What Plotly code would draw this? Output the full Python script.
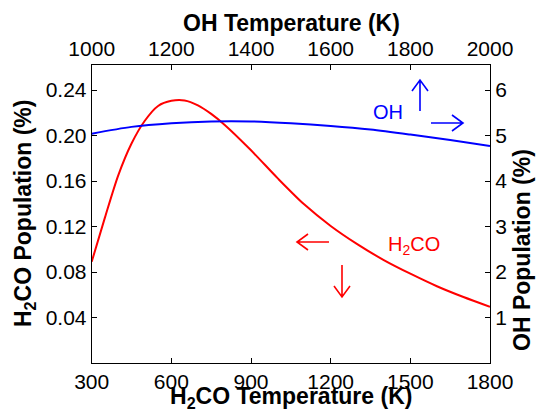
import plotly.graph_objects as go

# H2CO (bottom x / left y)
h2co_temp = [300, 350, 400, 450, 500, 550, 600, 650, 700, 750, 800, 900, 1000,
             1100, 1200, 1300, 1400, 1500, 1600, 1700, 1800]
h2co_pop = [0.089, 0.128, 0.165, 0.193, 0.213, 0.226, 0.2305, 0.2308, 0.2265,
            0.219, 0.2095, 0.187, 0.1625, 0.1395, 0.1205, 0.1045, 0.0905, 0.0785,
            0.0675, 0.058, 0.0494]

# OH (top x / right y)
oh_temp = [1000, 1100, 1200, 1300, 1400, 1500, 1600, 1700, 1800, 1900, 2000]
oh_pop = [5.04, 5.19, 5.27, 5.31, 5.31, 5.27, 5.21, 5.13, 5.02, 4.90, 4.77]

h2co_ticks = [300, 600, 900, 1200, 1500, 1800]
oh_ticks = [1000, 1200, 1400, 1600, 1800, 2000]
left_ticks = [0.04, 0.08, 0.12, 0.16, 0.20, 0.24]
right_ticks = [1, 2, 3, 4, 5, 6]

W, H = 537, 415
FONT = "Liberation Sans, Arial, Helvetica, sans-serif"
TICKF = dict(family=FONT, size=21, color="black")
TITLEF = dict(family=FONT, size=23, color="black")

fig = go.Figure()
fig.add_trace(go.Scatter(x=h2co_temp, y=h2co_pop, mode="lines",
                         line=dict(color="#ff0000", width=2, shape="spline", smoothing=0.8),
                         xaxis="x", yaxis="y", showlegend=False))
fig.add_trace(go.Scatter(x=oh_temp, y=oh_pop, mode="lines",
                         line=dict(color="#0000ff", width=2, shape="spline", smoothing=0.8),
                         xaxis="x2", yaxis="y2", showlegend=False))

axis_common = dict(showline=True, linecolor="black", linewidth=1, ticks="inside",
                   ticklen=5, tickcolor="black", tickwidth=1, showgrid=False,
                   zeroline=False, tickfont=TICKF, automargin=False)

xdom = [91.7 / W, 490 / W]
ydom = [1 - 363 / H, 1 - 65 / H]

fig.update_layout(
    width=W, height=H,
    margin=dict(l=0, r=0, t=0, b=0),
    paper_bgcolor="white", plot_bgcolor="white",
    xaxis=dict(domain=xdom, range=[300, 1800], tickvals=h2co_ticks, anchor="y",
               side="bottom", **axis_common),
    xaxis2=dict(domain=xdom, range=[1000, 2000], tickvals=oh_ticks, overlaying="x",
                anchor="y", side="top", **axis_common),
    yaxis=dict(domain=ydom, range=[0, 0.262], tickvals=left_ticks, tickformat=".2f",
               anchor="x", side="left", **axis_common),
    yaxis2=dict(domain=ydom, range=[0, 6.55], tickvals=right_ticks, overlaying="y",
                anchor="x", side="right", **axis_common),
)

def bold(t):
    return "<b>" + t + "</b>"

annots = [
    dict(text=bold("H<sub>2</sub>CO Temperature (K)"), x=291, y=397, textangle=0),
    dict(text=bold("OH Temperature (K)"), x=291, y=23, textangle=0),
    dict(text=bold("H<sub>2</sub>CO Population (%)"), x=24, y=214, textangle=-90),
    dict(text=bold("OH Population (%)"), x=522, y=250, textangle=-90),
]
for a in annots:
    fig.add_annotation(xref="paper", yref="paper", showarrow=False,
                       xanchor="center", yanchor="middle", font=TITLEF,
                       text=a["text"], x=a["x"] / W, y=1 - a["y"] / H,
                       textangle=a["textangle"])

labels = [
    dict(text="OH", x=388, y=112, color="#0000ff"),
    dict(text="H<sub>2</sub>CO", x=414, y=245, color="#ff0000"),
]
for l in labels:
    fig.add_annotation(xref="paper", yref="paper", showarrow=False,
                       xanchor="center", yanchor="middle",
                       x=l["x"] / W, y=1 - l["y"] / H, text=l["text"],
                       font=dict(family=FONT, size=20, color=l["color"]))

# direction arrows (tail -> head in pixels), thin shaft + open chevron head
arrows = [
    dict(tail=(420, 111), head=(420, 80), color="#0000ff"),
    dict(tail=(431, 123), head=(463, 123), color="#0000ff"),
    dict(tail=(329, 242), head=(297, 242), color="#ff0000"),
    dict(tail=(342, 265), head=(342, 297), color="#ff0000"),
]

def px(x, y):
    return f"{x / W:.5f},{1 - y / H:.5f}"

for a in arrows:
    (tx, ty), (hx, hy) = a["tail"], a["head"]
    dx, dy = hx - tx, hy - ty
    n = (dx * dx + dy * dy) ** 0.5
    ux, uy = dx / n, dy / n
    back, side = 11, 8
    w1 = (hx - ux * back - uy * side, hy - uy * back + ux * side)
    w2 = (hx - ux * back + uy * side, hy - uy * back - ux * side)
    path = (f"M{px(tx, ty)} L{px(hx, hy)} M{px(*w1)} L{px(hx, hy)} L{px(*w2)}")
    fig.add_shape(type="path", xref="paper", yref="paper", path=path,
                  line=dict(color=a["color"], width=1.6))

fig.write_html("out.html")
